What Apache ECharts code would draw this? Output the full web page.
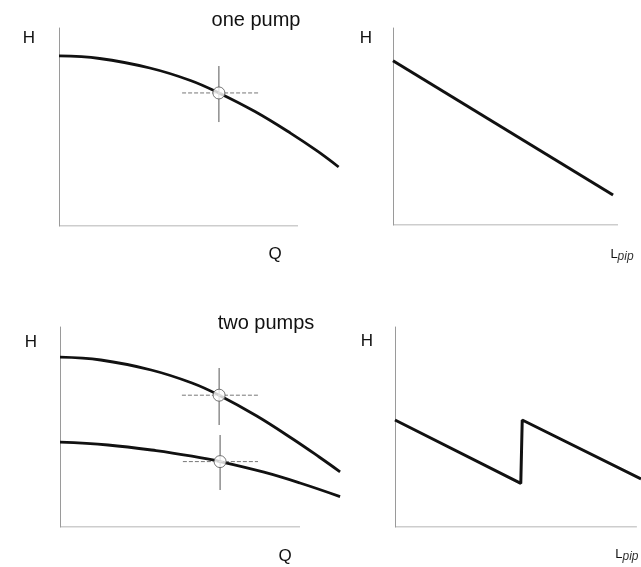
<!DOCTYPE html>
<html>
<head>
<meta charset="utf-8">
<title>pump curves</title>
<script src="https://cdn.jsdelivr.net/npm/echarts@6/dist/echarts.min.js"></script>
<style>
    html, body { margin: 0; padding: 0; background: #fff; }
    #chart { width: 641px; height: 567px; }
</style>
</head>
<body>
<div id="chart"></div>
<script>
    // curves, the drawn axes run 0..100 in both directions
    const onePumpCurve = [[0, 85.9], [17, 84.6], [38, 79.8], [55, 73.5], [66.9, 67.2], [82, 57.8], [97, 46.8], [108, 37.9], [117, 29.8]];
    const onePumpPoint = [66.9, 67.2];
    const onePumpCross = { v: [52.5, 80.8], h: [51.5, 83.3] };

    const onePipeLine = [[0, 83.4], [97.8, 15.2]];

    const twoPumpUpper = [[0, 84.9], [17, 83.5], [38, 78.5], [55, 72], [66.3, 65.9], [82, 55.5], [97, 44], [108, 35], [116.7, 27.6]];
    const twoPumpLower = [[0, 42.4], [20, 41], [40, 38.2], [55, 35.4], [66.7, 32.7], [85, 27.4], [100, 22], [116.7, 15.2]];
    const twoPumpPoints = [[66.3, 65.9], [66.7, 32.7]];
    const twoPumpCross = [
        { v: [51, 79.5], h: [50.8, 82.5] },
        { v: [18.5, 46], h: [51.2, 82.5] }
    ];

    // the last segment runs off the right edge of the picture
    const twoPipeLine = [[0, 53.5], [52, 21.8], [52.6, 53.5], [101.7, 24]];

    const titles = ['one pump', 'two pumps'];
    const axisRange = [0, 100];   // visible part of the x axes

    const font = "'Liberation Sans', Arial, sans-serif";
    const axisColor = '#9a9a9a';

    let chart = echarts.init(document.getElementById('chart'), null, { renderer: 'canvas' });

    // w = pixel length of the visible (0..100) part of the axis,
    // xMax = how far the grid reaches so the curves can run on past the axis
    const panels = [
        { left: 59, top: 28, w: 239, h: 198, xMax: 120 },
        { left: 393, top: 28, w: 225, h: 197, xMax: 100 },
        { left: 60, top: 327, w: 240, h: 200, xMax: 120 },
        { left: 395, top: 327, w: 242, h: 200, xMax: 101.7 }
    ];

    function xAx(idx, name, gap, padTop, rich) {
        let p = panels[idx];
        let extra = p.w * (p.xMax - axisRange[1]) / axisRange[1];
        return {
            type: 'value', gridIndex: idx, min: 0, max: p.xMax,
            name: name, nameLocation: 'end', nameGap: gap - extra,
            nameTextStyle: {
                fontFamily: font, fontSize: 17, color: '#111',
                align: 'center', verticalAlign: 'top', padding: [padTop, 0, 0, 0],
                rich: rich
            },
            axisLine: { show: false },
            axisTick: { show: false }, axisLabel: { show: false }, splitLine: { show: false }
        };
    }

    function yAx(idx, gap, padRight) {
        return {
            type: 'value', gridIndex: idx, min: 0, max: 100,
            name: 'H', nameLocation: 'end', nameGap: gap,
            nameTextStyle: {
                fontFamily: font, fontSize: 17, color: '#111',
                align: 'right', verticalAlign: 'middle', padding: [0, padRight, 0, 0]
            },
            axisLine: { show: true, lineStyle: { color: axisColor, width: 1 } },
            axisTick: { show: false }, axisLabel: { show: false }, splitLine: { show: false }
        };
    }

    const lpipRich = {
        l: { fontFamily: font, fontSize: 13, color: '#111' },
        s: { fontFamily: font, fontSize: 12, color: '#333', fontStyle: 'italic', padding: [5, 0, 0, 0] }
    };

    function baseLine(x) {
        return {
            type: 'line', xAxisIndex: x, yAxisIndex: x, symbol: 'none', silent: true, z: 1,
            data: [[axisRange[0], 0], [axisRange[1], 0]],
            lineStyle: { color: axisColor, width: 1 }
        };
    }

    function curve(x, data, w, smooth) {
        return {
            type: 'line', xAxisIndex: x, yAxisIndex: x, data: data,
            smooth: smooth, symbol: 'none', silent: true,
            lineStyle: { color: '#111', width: w }
        };
    }

    function cross(x, p, c) {
        return [
            {
                type: 'line', xAxisIndex: x, yAxisIndex: x, symbol: 'none', silent: true,
                data: [[p[0], c.v[0]], [p[0], c.v[1]]],
                lineStyle: { color: '#555', width: 1 }
            },
            {
                type: 'line', xAxisIndex: x, yAxisIndex: x, symbol: 'none', silent: true,
                data: [[c.h[0], p[1]], [c.h[1], p[1]]],
                lineStyle: { color: '#777', width: 1, type: [4, 2] }
            }
        ];
    }

    function point(x, data) {
        return {
            type: 'scatter', xAxisIndex: x, yAxisIndex: x, data: data,
            symbol: 'circle', symbolSize: 12, silent: true, z: 5,
            itemStyle: { color: '#fff', borderColor: '#555', borderWidth: 1 }
        };
    }

    let option = {
        backgroundColor: '#fff',
        animation: false,
        title: [
            { text: titles[0], left: 256, top: 10, textAlign: 'center', padding: 0,
              textStyle: { fontFamily: font, fontSize: 20, fontWeight: 'normal', color: '#111' } },
            { text: titles[1], left: 266, top: 313, textAlign: 'center', padding: 0,
              textStyle: { fontFamily: font, fontSize: 20, fontWeight: 'normal', color: '#111' } }
        ],
        grid: panels.map(p => ({
            left: p.left, top: p.top, height: p.h,
            width: p.w * p.xMax / axisRange[1]
        })),
        xAxis: [
            xAx(0, 'Q', -23, 20),
            xAx(1, '{l|L}{s|pip}', 4, 21, lpipRich),
            xAx(2, 'Q', -15, 21),
            xAx(3, '{l|L}{s|pip}', -10, 19, lpipRich)
        ],
        yAxis: [
            yAx(0, -10, 24),
            yAx(1, -10, 21),
            yAx(2, -15, 23),
            yAx(3, -14, 22)
        ],
        series: [
            baseLine(0), baseLine(1), baseLine(2), baseLine(3),
            curve(0, onePumpCurve, 2.8, 0.4),
            ...cross(0, onePumpPoint, onePumpCross),
            point(0, [onePumpPoint]),
            curve(1, onePipeLine, 3, false),
            curve(2, twoPumpUpper, 2.8, 0.4),
            curve(2, twoPumpLower, 2.8, 0.4),
            ...cross(2, twoPumpPoints[0], twoPumpCross[0]),
            ...cross(2, twoPumpPoints[1], twoPumpCross[1]),
            point(2, twoPumpPoints),
            curve(3, twoPipeLine, 3, false)
        ]
    };

    chart.setOption(option);
</script>
</body>
</html>
